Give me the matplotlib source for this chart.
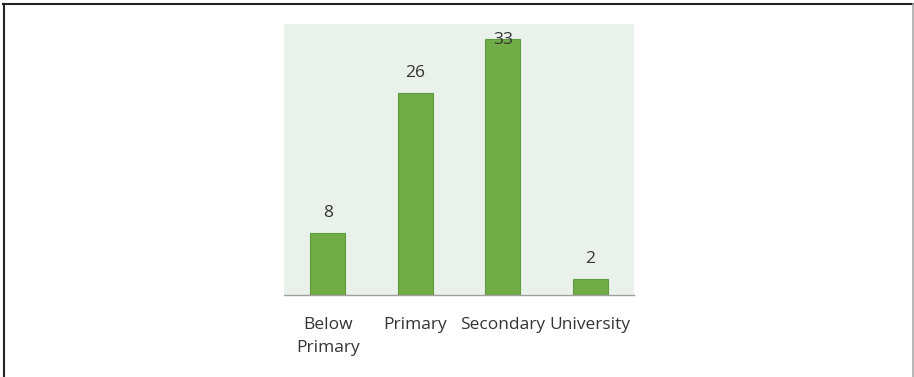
import numpy as np
from matplotlib import pyplot as plt
from matplotlib.lines import Line2D

categories = ['Below\nPrimary', 'Primary', 'Secondary', 'University']
counts = [8, 26, 33, 2]

plt.rcParams['font.family'] = ['Open Sans', 'DejaVu Sans']

fig = plt.figure(figsize=(9.14, 3.77), dpi=100)
W, H = 914, 377

# outer frame (top, left dark; right light)
fig.add_artist(Line2D([3 / W, 913 / W], [1 - 4 / H, 1 - 4 / H], color='#222222', lw=1.5))
fig.add_artist(Line2D([3.5 / W, 3.5 / W], [0, 1 - 4 / H], color='#222222', lw=1.5))
fig.add_artist(Line2D([912.5 / W, 912.5 / W], [0, 1 - 4 / H], color='#aaaaaa', lw=1.2))

ax = fig.add_axes([284 / W, 1 - 295 / H, 350 / W, 271 / H])
ax.set_facecolor('#EAF1EA')
x = np.arange(len(categories))
ax.bar(x, counts, width=0.4, color='#70AD47', edgecolor='#5F9A3C', linewidth=0.8, zorder=2)
ax.set_xlim(-0.5, 3.5)
ax.set_ylim(0, 34.9)

for xi, v in zip(x, counts):
    y = min(v + 2.6, 32.8)
    ax.text(xi, y, str(v), ha='center', va='center', fontsize=12.5, color='#333333')

for s in ['top', 'left', 'right']:
    ax.spines[s].set_visible(False)
ax.spines['bottom'].set_color('#A0A0A0')
ax.spines['bottom'].set_linewidth(1)
ax.set_yticks([])
ax.set_xticks(x)
ax.set_xticklabels(categories, fontsize=12.5, color='#333333', linespacing=1.55)
ax.tick_params(axis='x', length=0, pad=16)

plt.savefig('out.png', dpi=100)
